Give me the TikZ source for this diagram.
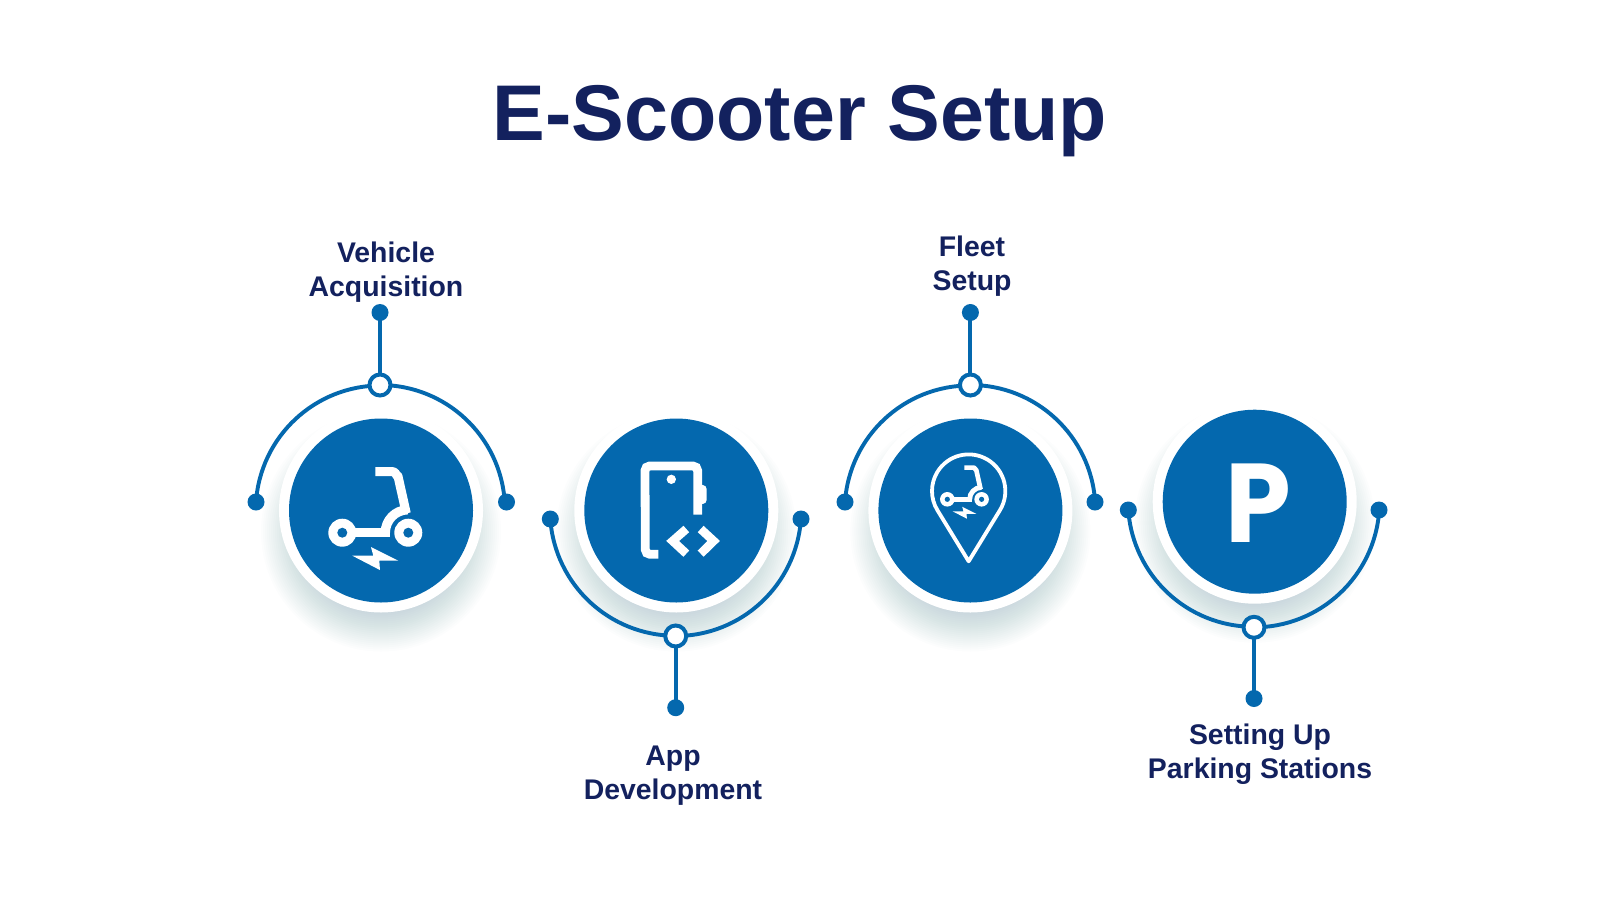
\documentclass[tikz,border=0pt]{standalone}
\usepackage{fontspec}
\setmainfont{Liberation Sans}
\newfontfamily\iconfont{Poppins}
\definecolor{brand}{HTML}{0468AE}
\definecolor{ink}{HTML}{13215E}
\definecolor{shadowtint}{HTML}{2F6290}
\pgfdeclarelayer{shadowlayer}
\pgfdeclarelayer{wirelayer}
\pgfsetlayers{shadowlayer,wirelayer,main}
\tikzset{
  wire/.style={draw=brand,line width=3.9pt},
  enddot/.style={circle,fill=brand,minimum size=17pt,inner sep=0pt,outer sep=0pt},
  ringdot/.style={circle,draw=brand,fill=white,line width=4pt,minimum size=21pt,inner sep=0pt,outer sep=0pt},
  disc/.style={circle,fill=brand,minimum size=184pt,inner sep=0pt,outer sep=0pt},
  halo/.style={circle,fill=white,minimum size=204pt,inner sep=0pt,outer sep=0pt},
  steplabel/.style={align=center,text=ink,font=\fontsize{28.4}{34}\selectfont\bfseries,inner sep=0pt},
}
\newcommand{\softshadow}[2]{%
  \begin{pgfonlayer}{shadowlayer}
    \foreach \r in {80,82,...,120}{
      \fill[fill=shadowtint,opacity=0.013] (#1,#2+21) circle[radius=\r];
    }
  \end{pgfonlayer}}
\newcommand{\scooter}[3]{%
  \begin{scope}[shift={(#1,#2)},scale=#3,shift={(-97,-248)}]
    \pgfmathsetmacro{\sw}{#3}
    \fill[white] (97,248) circle[radius=42];
    \fill[white] (295,248) circle[radius=42];
    \fill[white] (97,235) rectangle (239,262);
    \draw[white,line width=\sw*28 pt] (226,248) arc[start angle=180,end angle=268,radius=69];
    \draw[white,line width=\sw*27 pt,line join=round] (196,65) -- (250,65) to[out=0,in=-100] (264,78) -- (289,190);
    \fill[brand] (97,248) circle[radius=15];
    \fill[brand] (295,248) circle[radius=15];
    \fill[white] (127,317) -- (190,317) -- (183,291) -- (265,332) -- (208,332) -- (210,360) -- cycle;
  \end{scope}}
\begin{document}
\begin{tikzpicture}[x=1pt,y=-1pt]
\path[use as bounding box] (0,0) rectangle (1600,900);
\begin{pgfonlayer}{shadowlayer}
\fill[white] (0,0) rectangle (1600,900);
\end{pgfonlayer}

\node[text=ink,font=\fontsize{79}{79}\selectfont\bfseries,inner sep=0pt,anchor=base] (title) at (800,140.5) {E-Scooter Setup};

% column 1
\softshadow{381}{510.5}
\node[halo] (h1) at (381,510.5) {};
\node[disc] (c1) at (381,510.5) {};
\node[enddot] (l1) at (256,502) {};
\node[enddot] (r1) at (506.5,502) {};
\node[ringdot] (m1) at (380,385) {};
\node[enddot] (s1) at (380,312.5) {};
\begin{pgfonlayer}{wirelayer}
\draw[wire] (l1.center) arc[start angle=183.9,end angle=270,radius=125];
\draw[wire] (m1.center) arc[start angle=270,end angle=356.1,radius=125];
\draw[wire] (m1.center) -- (s1.center);
\end{pgfonlayer}
\node[steplabel] (t1) at (386,272.5) {Vehicle\\Acquisition};
\scooter{342.3}{532.7}{0.3333}

% column 2
\softshadow{676.3}{510.5}
\node[halo] (h2) at (676.3,510.5) {};
\node[disc] (c2) at (676.3,510.5) {};
\node[enddot] (l2) at (550.3,519) {};
\node[enddot] (r2) at (801,519) {};
\node[ringdot] (m2) at (675.7,636) {};
\node[enddot] (s2) at (675.7,707.7) {};
\begin{pgfonlayer}{wirelayer}
\draw[wire] (l2.center) arc[start angle=176,end angle=90,radius=125.5];
\draw[wire] (m2.center) arc[start angle=90,end angle=4,radius=125.5];
\draw[wire] (m2.center) -- (s2.center);
\end{pgfonlayer}
\node[steplabel] (t2) at (673,775.5) {App\\Development};
\begin{scope}[shift={(530,400)},scale=0.3333]
  \draw[white,line width=8.8pt,line cap=butt] (385,463) -- (360,463) arc[start angle=90,end angle=180,radius=14] -- (345,212) arc[start angle=180,end angle=270,radius=14] -- (489,198) arc[start angle=270,end angle=360,radius=14] -- (503,344);
  \fill[white] (510,255) -- (518,255) arc[start angle=-90,end angle=0,radius=12] -- (530,300) arc[start angle=0,end angle=90,radius=12] -- (510,312) -- cycle;
  \fill[white] (424,238) circle[radius=14];
  \draw[white,line width=8.6pt,line join=miter] (469,387) -- (428,423) -- (469,461);
  \draw[white,line width=8.6pt,line join=miter] (512,387) -- (551,423) -- (512,461);
\end{scope}

% column 3
\softshadow{970.4}{510.5}
\node[halo] (h3) at (970.4,510.5) {};
\node[disc] (c3) at (970.4,510.5) {};
\node[enddot] (l3) at (845,502) {};
\node[enddot] (r3) at (1095,502) {};
\node[ringdot] (m3) at (970.4,385) {};
\node[enddot] (s3) at (970.4,312.5) {};
\begin{pgfonlayer}{wirelayer}
\draw[wire] (l3.center) arc[start angle=183.9,end angle=270,radius=125];
\draw[wire] (m3.center) arc[start angle=270,end angle=356.1,radius=125];
\draw[wire] (m3.center) -- (s3.center);
\end{pgfonlayer}
\node[steplabel] (t3) at (972,266.5) {Fleet\\Setup};
\begin{scope}[shift={(900,430)},scale=0.3333]
  \draw[white,line width=3.8pt,line join=round] (206,394) -- (300.2,240) arc[start angle=31.1,end angle=-211.1,radius=110] -- cycle;
\end{scope}
\scooter{947.3}{499.3}{0.1733}

% column 4
\softshadow{1254.7}{501.7}
\node[halo] (h4) at (1254.7,501.7) {};
\node[disc] (c4) at (1254.7,501.7) {};
\node[enddot] (l4) at (1128.3,510) {};
\node[enddot] (r4) at (1379,510) {};
\node[ringdot] (m4) at (1254,627.3) {};
\node[enddot] (s4) at (1254,698.5) {};
\begin{pgfonlayer}{wirelayer}
\draw[wire] (l4.center) arc[start angle=176,end angle=90,radius=125.5];
\draw[wire] (m4.center) arc[start angle=90,end angle=4,radius=125.5];
\draw[wire] (m4.center) -- (s4.center);
\end{pgfonlayer}
\node[steplabel] (t4) at (1260,754.5) {Setting Up\\Parking Stations};
\node[text=white,font=\iconfont\fontsize{112}{112}\selectfont\bfseries,inner sep=0pt,transform shape,xscale=0.94] (p4) at (1258,503) {P};
\end{tikzpicture}
\end{document}
